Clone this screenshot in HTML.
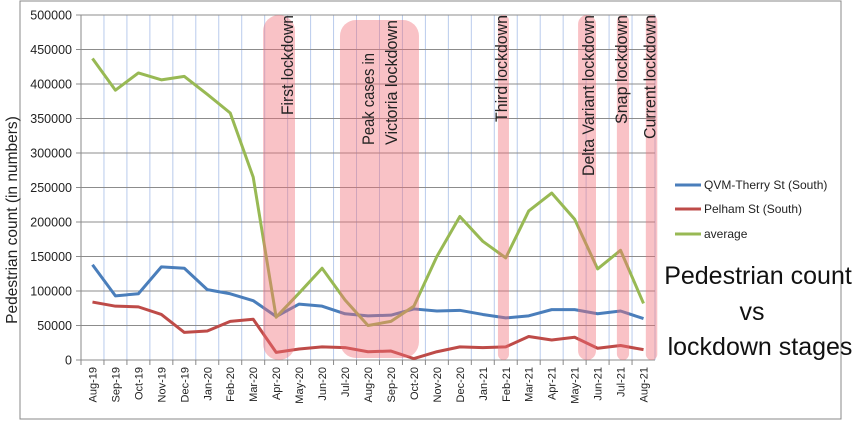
<!DOCTYPE html>
<html><head><meta charset="utf-8"><style>
body{margin:0;background:#fff;}
svg{display:block;font-family:"Liberation Sans",sans-serif;}
</style></head><body>
<svg id="chart" width="862" height="421">
<rect x="20" y="1" width="821" height="418" fill="#fff" stroke="#888" stroke-width="1"/>
<g id="grid"></g>
<g id="bands"></g>
<g id="series"></g>
<g id="axes"></g>
<text transform="translate(17,220) rotate(-90)" text-anchor="middle" font-size="15.5" fill="#222">Pedestrian count (in numbers)</text>
<g>
<line x1="675" y1="185" x2="701" y2="185" stroke="#4a7ebb" stroke-width="3"/>
<text x="704" y="189" font-size="12" fill="#222">QVM-Therry St (South)</text>
<line x1="675" y1="209" x2="701" y2="209" stroke="#be4b48" stroke-width="3"/>
<text x="704" y="213" font-size="12" fill="#222">Pelham St (South)</text>
<line x1="675" y1="234" x2="701" y2="234" stroke="#98b954" stroke-width="3"/>
<text x="704" y="238" font-size="12" fill="#222">average</text>
</g>
<g font-size="25" fill="#111" text-anchor="middle">
<text x="758" y="284">Pedestrian count</text>
<text x="752" y="320">vs</text>
<text x="760" y="355">lockdown stages</text>
</g>
</svg>
<script>
const categories=["Aug-19","Sep-19","Oct-19","Nov-19","Dec-19","Jan-20","Feb-20","Mar-20","Apr-20","May-20","Jun-20","Jul-20","Aug-20","Sep-20","Oct-20","Nov-20","Dec-20","Jan-21","Feb-21","Mar-21","Apr-21","May-21","Jun-21","Jul-21","Aug-21"];
const qvmValues=[138000,93000,96000,135000,133000,102000,96000,86000,63000,81000,78000,67000,64000,65000,74000,71000,72000,66000,61000,64000,73000,73000,67000,71000,60000];
const pelhamValues=[84000,78000,77000,66000,40000,42000,56000,59000,11000,16000,19000,18000,12000,13000,2000,12000,19000,18000,19000,34000,29000,33000,17000,21000,15000];
const averageValues=[437000,391000,416000,406000,411000,385000,358000,265000,62000,97000,133000,87000,50000,56000,78000,150000,208000,172000,148000,216000,242000,204000,132000,159000,82000];
const yTicks=[0,50000,100000,150000,200000,250000,300000,350000,400000,450000,500000];
const lockdownLabels=[["First lockdown"],["Peak cases in","Victoria lockdown"],["Third lockdown"],["Delta Variant lockdown"],["Snap lockdown"],["Current lockdown"]];
const lockdownStart=[7.93,11.28,18.16,21.65,23.34,24.6];
const lockdownEnd=[9.32,14.72,18.64,22.43,23.87,25.1];

const NS="http://www.w3.org/2000/svg";
const L=81,R=655,T=15,B=360;
const bw=(R-L)/categories.length;
const xPos=i=>L+bw*(i+0.5);
const xEdge=v=>L+bw*v;
const yPos=v=>B-(v/500000)*(B-T);
function mk(tag,attrs,parent){const e=document.createElementNS(NS,tag);for(const k in attrs)e.setAttribute(k,attrs[k]);parent.appendChild(e);return e;}
const grid=document.getElementById('grid'),axes=document.getElementById('axes'),bands=document.getElementById('bands'),series=document.getElementById('series');
for(let i=1;i<=categories.length;i++){
  const l=mk('line',{x1:xEdge(i),x2:xEdge(i),y1:T,y2:B,stroke:'#b9cbec','stroke-width':1},grid);
  
  
}
yTicks.forEach(t=>{
  const y=yPos(t);
  const l=mk('line',{x1:L-5,x2:R,y1:y,y2:y,stroke:'#8c8c8c','stroke-width':1},grid);
  
  
  const tx=mk('text',{x:L-9,y:y+4.5,'text-anchor':'end','font-size':'12.5',fill:'#222'},axes);
  tx.textContent=t;
  
  
});
mk('line',{x1:L,x2:L,y1:T,y2:B,stroke:'#888'},axes);
categories.forEach((c,i)=>{
  const tk=mk('line',{x1:xEdge(i),x2:xEdge(i),y1:B,y2:B+5,stroke:'#888'},axes);
  
  
  const x=xPos(i);
  const tx=mk('text',{transform:`translate(${x+4},367) rotate(-90)`,'text-anchor':'end','font-size':'11',fill:'#222'},axes);
  tx.textContent=c;
  
  
});
const cols=[[qvmValues,'#4a7ebb','qvm-line'],[pelhamValues,'#be4b48','pelham-line'],[averageValues,'#98b954','average-line']];
cols.forEach(([vals,col,name])=>{
  const p=mk('polyline',{points:vals.map((v,i)=>xPos(i)+','+yPos(v)).join(' '),fill:'none',stroke:col,'stroke-width':3,'stroke-linejoin':'round'},series);
  
  
});
const labelLens=[[100],[92,125],[107],[161],[109],[124]];
lockdownStart.forEach((s,i)=>{
  const x1=xEdge(s),x2=xEdge(lockdownEnd[i]),w=x2-x1;
  const r=mk('rect',{x:x1,y:i===1?20:15,width:w,height:i===1?338:345,rx:Math.min(w/2,16),fill:'rgba(240,110,120,0.42)'},series);
  
  
  const lines=lockdownLabels[i];
  lines.forEach((t,j)=>{
    const multi=lines.length>1;
    const bx=multi?(x1+x2)/2-5.5+j*23:x2-2;
    const y0=multi?145:15;
    const tx=mk('text',{transform:`translate(${bx},${y0}) rotate(-90)`,'text-anchor':multi?'start':'end','font-size':'17',fill:'#222',textLength:labelLens[i][j],lengthAdjust:'spacingAndGlyphs'},series);
    tx.textContent=t;
    
    
  });
});
</script>
</body></html>
